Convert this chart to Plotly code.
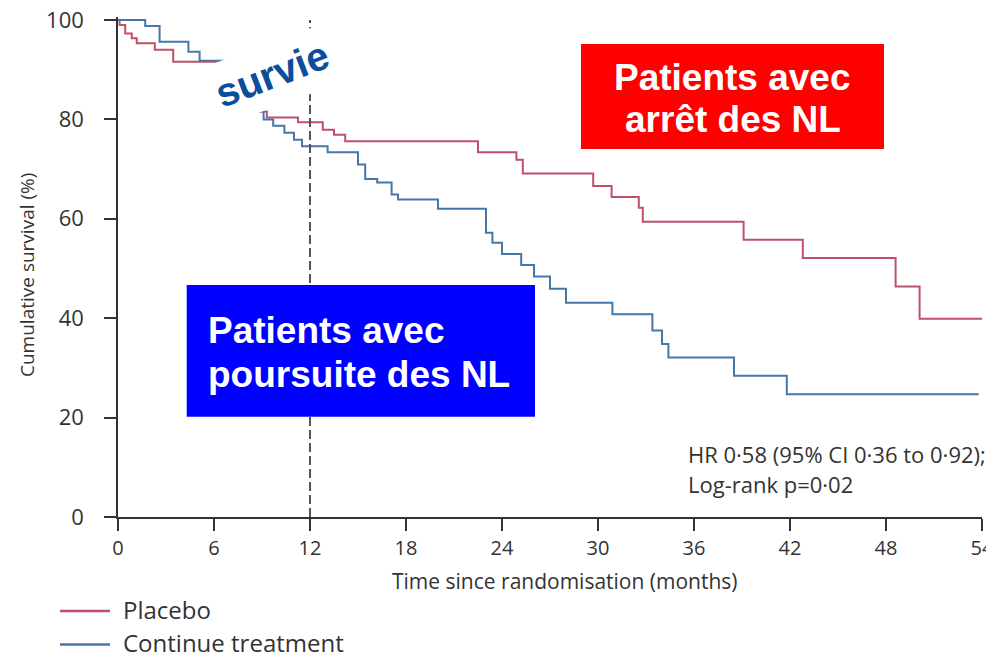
import plotly.graph_objects as go

# ---------------- data ----------------
placebo_t = [0, 0.1, 0.45, 0.86, 1.17, 2.3, 3.45, 7.5, 9.3, 11.25, 12.8, 13.5, 14.2,
             22.5, 24.9, 25.3, 29.7, 30.85, 32.55, 32.8, 39.1, 42.8, 48.6, 50.1, 54.0]
placebo_s = [100, 99.0, 97.3, 96.3, 95.3, 94.0, 91.6, 81.6, 80.4, 79.4, 77.9, 76.9, 75.6,
             73.4, 71.9, 69.1, 66.6, 64.4, 62.2, 59.4, 55.8, 52.1, 46.4, 39.9, 39.9]

cont_t = [0, 1.7, 2.6, 4.4, 5.1, 7.9, 9.1, 9.7, 10.4, 11.0, 11.5, 13.1, 15.0, 15.45, 16.2,
          17.1, 17.5, 20.0, 23.0, 23.4, 24.0, 25.2, 26.0, 27.0, 28.0, 30.9, 33.4, 34.0,
          34.4, 38.5, 41.8, 53.8]
cont_s = [100, 98.8, 95.6, 93.6, 91.8, 81.6, 80.0, 78.7, 77.3, 75.9, 74.6, 73.4, 70.9, 68.0, 67.3,
          64.9, 63.9, 62.0, 57.2, 55.2, 52.9, 50.7, 48.4, 45.9, 43.1, 40.8, 37.5, 34.8,
          32.1, 28.4, 24.7, 24.7]

x_ticks = [0, 6, 12, 18, 24, 30, 36, 42, 48, 54]
y_ticks = [0, 20, 40, 60, 80, 100]
landmark_month = 12

series_names = ["Placebo", "Continue treatment"]
series_colors = ["#C0506A", "#4677A8"]

# ---------------- layout helpers ----------------
# the page body has an 8px default margin, so the figure is shifted by 8px
OFF = 8
W, H = 994, 659
PW, PH = 864, 500
ML, MT = 118 - OFF, 17 - OFF
MR, MB = W - ML - PW, H - MT - PH
X0_SCREEN = 118        # screen x of month 0
Y_BOTTOM_SCREEN = 517  # screen y of plot bottom (0 %)


def px(x):
    return (x - X0_SCREEN) / PW


def py(y):
    return (Y_BOTTOM_SCREEN - y) / PH


TXT = "#333333"
SANS = "Open Sans"
ARIAL = "Liberation Sans, Arial"

fig = go.Figure()
for t, s, name, col in [(placebo_t, placebo_s, series_names[0], series_colors[0]),
                        (cont_t, cont_s, series_names[1], series_colors[1])]:
    fig.add_trace(go.Scatter(x=t, y=s, mode="lines", name=name,
                             line=dict(color=col, width=2, shape="hv"),
                             showlegend=False))

shapes = []
# landmark dashed line
shapes.append(dict(type="line", xref="x", yref="y", x0=landmark_month, x1=landmark_month,
                   y0=0, y1=100, line=dict(color="#555555", width=2, dash="9px,4px"),
                   layer="above"))
# white mask behind "survie"
mask_pts = [(198.5, 68.9), (338.8, 17.7), (362, 75.2), (219.6, 127)]
path = "M " + " L ".join(f"{px(a):.5f},{py(b):.5f}" for a, b in mask_pts) + " Z"
shapes.append(dict(type="path", xref="paper", yref="paper", path=path,
                   fillcolor="white", line=dict(width=0), layer="above"))
# red and blue boxes
shapes.append(dict(type="rect", xref="paper", yref="paper", x0=px(581), x1=px(884),
                   y0=py(149), y1=py(44), fillcolor="#FF0000", line=dict(width=0), layer="above"))
shapes.append(dict(type="rect", xref="paper", yref="paper", x0=px(186.7), x1=px(535),
                   y0=py(416.7), y1=py(285), fillcolor="#0000FF", line=dict(width=0), layer="above"))
# legend swatches
for yy, col in [(611, series_colors[0]), (644.5, series_colors[1])]:
    shapes.append(dict(type="line", xref="paper", yref="paper", x0=px(60), x1=px(110),
                       y0=py(yy), y1=py(yy), line=dict(color=col, width=2.5)))

ann = []


def add_text(text, x, y, size, color, family, xanchor="left", bold=False, angle=0):
    ann.append(dict(text=text, xref="paper", yref="paper", x=px(x), y=py(y),
                    xanchor=xanchor, yanchor="middle", showarrow=False, textangle=angle,
                    font=dict(family=family, size=size, color=color,
                              weight="bold" if bold else "normal")))


add_text("survie", 272, 74, 40, "#0B4F9B", ARIAL, xanchor="center", bold=True, angle=-21)
add_text("Patients avec", 732.5, 77.8, 37, "white", ARIAL, xanchor="center", bold=True)
add_text("arrêt des NL", 732.5, 119.5, 37, "white", ARIAL, xanchor="center", bold=True)
add_text("Patients avec", 206, 330.5, 37, "white", ARIAL, bold=True)
add_text("poursuite des NL", 206, 374.5, 37, "white", ARIAL, bold=True)
add_text("HR 0·58 (95% CI 0·36 to 0·92);", 686, 453.6, 22, TXT, SANS)
add_text("Log-rank p=0·02", 686, 483.6, 22, TXT, SANS)
add_text("Time since randomisation (months)", 565, 581, 21, TXT, SANS, xanchor="center")
add_text("Cumulative survival (%)", 27, 275, 19, TXT, SANS, xanchor="center", angle=-90)
add_text(series_names[0], 121, 609.0, 24, TXT, SANS)
add_text(series_names[1], 121, 642.5, 24, TXT, SANS)

axis_common = dict(showgrid=False, zeroline=False, showline=True, linecolor=TXT, linewidth=1.5,
                   ticks="outside", ticklen=12, tickwidth=1.5, tickcolor=TXT,
                   automargin=False, ticklabeloverflow="allow")

fig.update_layout(
    width=W, height=H, margin=dict(l=ML, r=MR, t=MT, b=MB, autoexpand=False),
    paper_bgcolor="white", plot_bgcolor="white",
    xaxis=dict(range=[0, 54], tickvals=x_ticks,
               tickfont=dict(family=SANS, size=20, color=TXT), **axis_common),
    yaxis=dict(range=[0, 100.6], tickvals=y_ticks, ticklabelstandoff=16,
               tickfont=dict(family=SANS, size=22, color=TXT), **axis_common),
    shapes=shapes, annotations=ann,
)

fig.write_html("out.html")
